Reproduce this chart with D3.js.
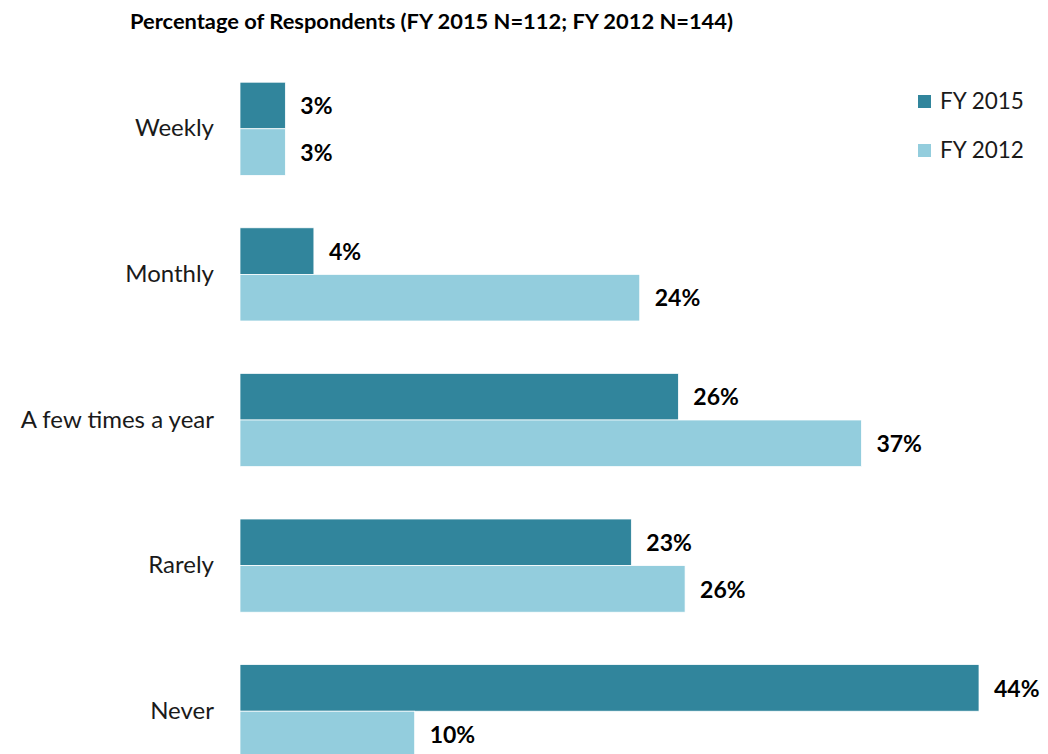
<!DOCTYPE html>
<html>
<head>
<meta charset="utf-8">
<script src="https://cdn.jsdelivr.net/npm/d3@7"></script>
<style>
  body { margin: 0; background: #fff; }
  svg text { font-family: Lato, "Open Sans", sans-serif; }
</style>
</head>
<body>
<div id="container"></div>
<script>
// chart data
var categories = ["Weekly", "Monthly", "A few times a year", "Rarely", "Never"];
var seriesNames = ["FY 2015", "FY 2012"];
var fy2015 = [2.7, 4.4, 26.1, 23.3, 44.0];
var fy2012 = [2.7, 23.8, 37.0, 26.5, 10.4];
var labels2015 = ["3%", "4%", "26%", "23%", "44%"];
var labels2012 = ["3%", "24%", "37%", "26%", "10%"];
var colors = ["#31859C", "#93CDDD"];

var width = 1048, height = 754;

var svg = d3.select("#container")
    .append("svg")
    .attr("width", width)
    .attr("height", height);

// build rows for each series
var rows = [];
categories.forEach(function (c, i) {
    rows.push({ cat: c, series: seriesNames[0], value: fy2015[i], label: labels2015[i] });
    rows.push({ cat: c, series: seriesNames[1], value: fy2012[i], label: labels2012[i] });
});

var x = d3.scaleLinear()
    .domain([0, 44])
    .range([240, 979]);

var y = d3.scaleBand()
    .domain(categories)
    .range([56, 784])
    .paddingInner(0.36)
    .paddingOuter(0.18);

var ySub = d3.scaleBand()
    .domain(seriesNames)
    .range([0, y.bandwidth()]);

var color = d3.scaleOrdinal()
    .domain(seriesNames)
    .range(colors);

// title
svg.append("text")
    .attr("x", 130)
    .attr("y", 29)
    .attr("font-size", 20)
    .attr("font-weight", "bold")
    .attr("fill", "#000")
    .attr("textLength", 603)
    .attr("lengthAdjust", "spacingAndGlyphs")
    .text("Percentage of Respondents (FY 2015 N=112; FY 2012 N=144)");

// category axis (no line, no ticks)
var yAxis = svg.append("g")
    .attr("transform", "translate(240,0)")
    .call(d3.axisLeft(y).tickSize(0).tickPadding(26));
yAxis.select(".domain").remove();
yAxis.selectAll("text")
    .attr("font-size", 24)
    .attr("fill", "#1a1a1a")
    .style("font-family", "Lato, 'Open Sans', sans-serif");

// bars
svg.append("g")
    .selectAll("rect")
    .data(rows)
    .enter()
    .append("rect")
    .attr("x", x(0))
    .attr("y", function (d) { return y(d.cat) + ySub(d.series); })
    .attr("width", function (d) { return x(d.value) - x(0); })
    .attr("height", ySub.bandwidth())
    .attr("fill", function (d) { return color(d.series); })
    .attr("stroke", "#fff")
    .attr("stroke-width", 0.75);

// value labels
svg.append("g")
    .selectAll("text")
    .data(rows)
    .enter()
    .append("text")
    .attr("x", function (d) { return x(d.value) + 15; })
    .attr("y", function (d) { return y(d.cat) + ySub(d.series) + ySub.bandwidth() / 2; })
    .attr("dy", "0.38em")
    .attr("font-size", 23)
    .attr("font-weight", "bold")
    .attr("fill", "#000")
    .text(function (d) { return d.label; });

// legend
var legend = svg.append("g")
    .selectAll("g")
    .data(seriesNames)
    .enter()
    .append("g")
    .attr("transform", function (d, i) { return "translate(918," + (95 + i * 49) + ")"; });
legend.append("rect")
    .attr("width", 13)
    .attr("height", 13)
    .attr("fill", function (d) { return color(d); });
legend.append("text")
    .attr("x", 22)
    .attr("y", 6.5)
    .attr("dy", "0.35em")
    .attr("font-size", 22.5)
    .attr("fill", "#1a1a1a")
    .text(function (d) { return d; });
</script>
</body>
</html>
